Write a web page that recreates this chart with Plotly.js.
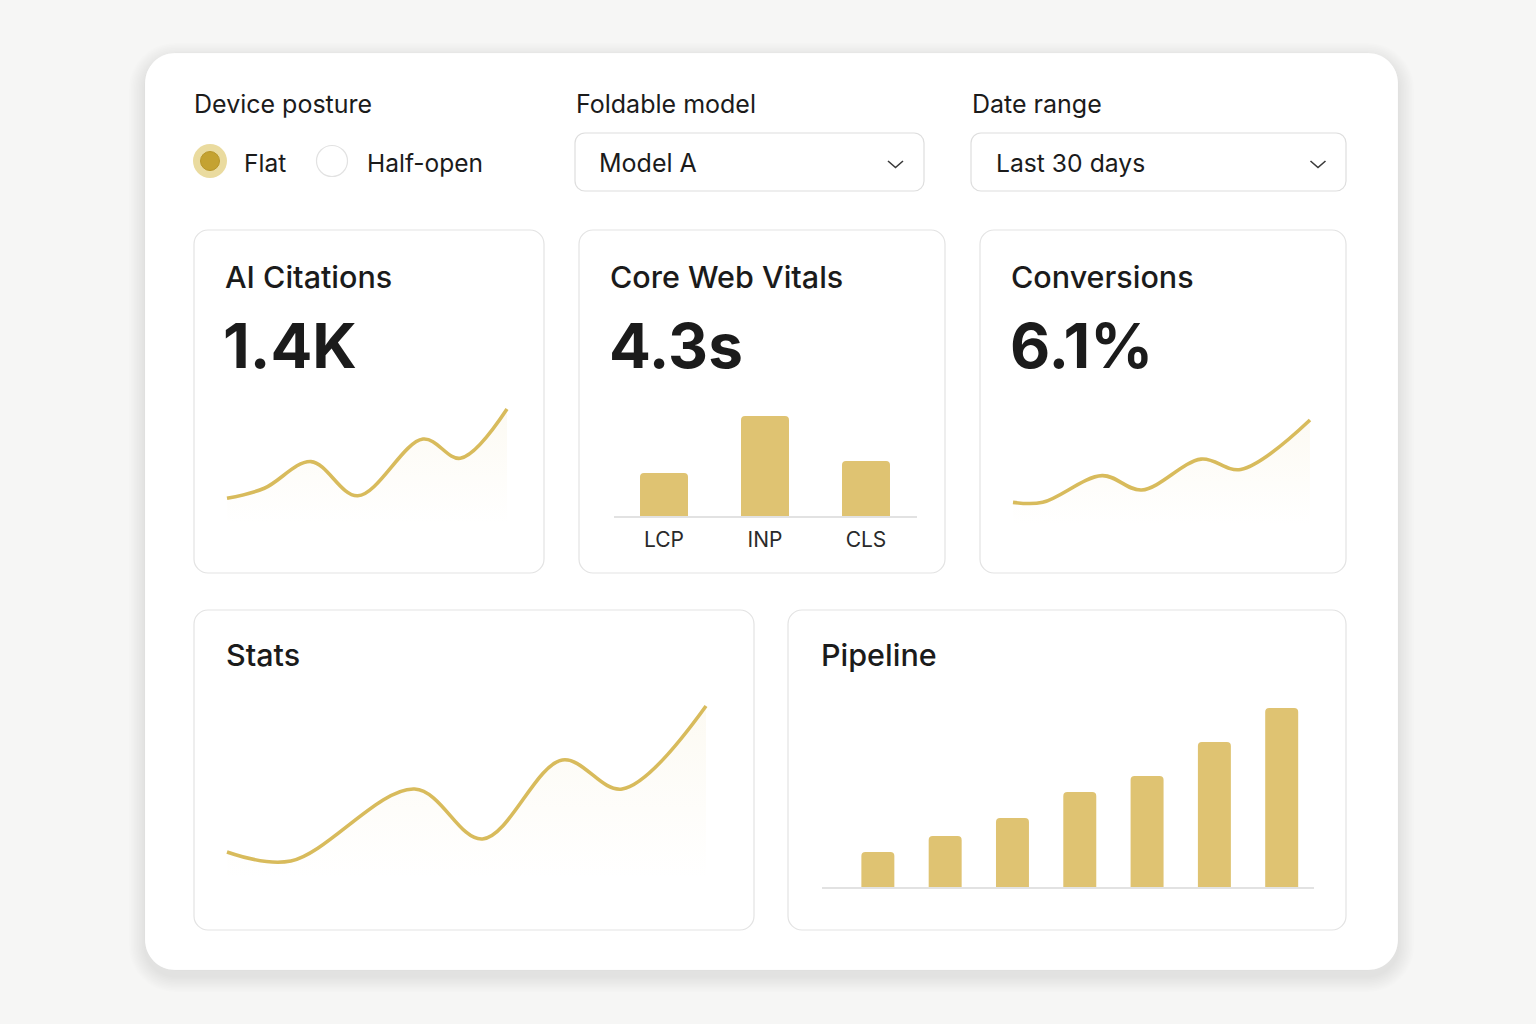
<!DOCTYPE html>
<html>
<head>
<meta charset="utf-8">
<script src="https://cdn.plot.ly/plotly-3.0.1.min.js"></script>
<style>
html,body{margin:0;padding:0;background:#f6f6f5;}
#chart{width:1536px;height:1024px;}
</style>
</head>
<body>
<div id="chart"></div>
<script>
// ---------------- DATA ----------------
const postureLabel = "Device posture";
const postureOptions = ["Flat", "Half-open"];
const modelLabel = "Foldable model";
const modelValue = "Model A";
const rangeLabel = "Date range";
const rangeValue = "Last 30 days";

const kpiTitles = ["AI Citations", "Core Web Vitals", "Conversions"];
const kpiValues = ["1.4K", "4.3s", "6.1%"];

const citationDays = [0, 4, 9, 14, 21, 25, 30];
const citationValues = [0.32, 0.44, 0.76, 0.35, 1.03, 0.80, 1.39];

const vitalsLabels = ["LCP", "INP", "CLS"];
const vitalsValues = [43, 100, 55];

const conversionDays = [0, 3, 9, 13, 19, 23, 30];
const conversionValues = [2.1, 2.1, 3.4, 2.7, 4.2, 3.7, 6.1];

const statsTitle = "Stats";
const statsX = [0, 1.6, 4.7, 6.4, 8.4, 9.9, 12];
const statsValues = [28, 19, 91, 41, 120, 91, 174];

const pipelineTitle = "Pipeline";
const pipelineStages = ["Stage 1", "Stage 2", "Stage 3", "Stage 4", "Stage 5", "Stage 6", "Stage 7"];
const pipelineValues = [35, 51, 69, 95, 111, 145, 179];

// ---------------- STYLE / HELPERS ----------------
const W = 1536, H = 1024;
const FONT = 'Inter, "Noto Sans", "DejaVu Sans", sans-serif';
const INK = '#1b1b1b';
const GOLD_BAR = '#dfc372';
const GOLD_LINE = '#d8bb5c';
const px = v => v / W;
const py = v => 1 - v / H;

function xMap(a, b, va, vb, pad) {
  const s = (vb - va) / (b - a);
  return { domain: [px(a - pad), px(b + pad)], range: [va - pad * s, vb + pad * s] };
}
function yMap(bot, top, v0, v1, padB, padT) {
  const s = (v1 - v0) / (bot - top);
  return { domain: [py(bot + padB), py(top - padT)], range: [v0 - padB * s, v1 + padT * s] };
}
function rr(x0, y0, x1, y1, r) {
  const k = 0.4477 * r;
  const X = v => px(v).toFixed(6), Y = v => py(v).toFixed(6);
  return `M${X(x0 + r)},${Y(y0)} L${X(x1 - r)},${Y(y0)} ` +
    `C${X(x1 - k)},${Y(y0)} ${X(x1)},${Y(y0 + k)} ${X(x1)},${Y(y0 + r)} ` +
    `L${X(x1)},${Y(y1 - r)} C${X(x1)},${Y(y1 - k)} ${X(x1 - k)},${Y(y1)} ${X(x1 - r)},${Y(y1)} ` +
    `L${X(x0 + r)},${Y(y1)} C${X(x0 + k)},${Y(y1)} ${X(x0)},${Y(y1 - k)} ${X(x0)},${Y(y1 - r)} ` +
    `L${X(x0)},${Y(y0 + r)} C${X(x0)},${Y(y0 + k)} ${X(x0 + k)},${Y(y0)} ${X(x0 + r)},${Y(y0)} Z`;
}
function rrShape(x0, y0, x1, y1, r, fill, line, lw) {
  return { type: 'path', xref: 'paper', yref: 'paper', layer: 'below',
    path: rr(x0, y0, x1, y1, r), fillcolor: fill,
    line: { color: line || 'rgba(0,0,0,0)', width: lw || 0 } };
}
function circle(cx, cy, r, fill, line, lw) {
  return { type: 'circle', xref: 'paper', yref: 'paper', layer: 'above',
    x0: px(cx - r), x1: px(cx + r), y0: py(cy + r), y1: py(cy - r),
    fillcolor: fill, line: { color: line || 'rgba(0,0,0,0)', width: lw || 0 } };
}
function chevron(cx, cy) {
  return { type: 'path', xref: 'paper', yref: 'paper', layer: 'above',
    path: `M${px(cx - 7.5)},${py(cy - 3)} L${px(cx)},${py(cy + 3.5)} L${px(cx + 7.5)},${py(cy - 3)}`,
    line: { color: '#3a3a3a', width: 1.6 } };
}
function txt(text, x, y, size, weight, color) {
  return { text: text, xref: 'paper', yref: 'paper', x: px(x), y: py(y),
    xanchor: 'left', yanchor: 'middle', showarrow: false, borderpad: 0,
    font: { family: FONT, size: size, weight: weight || 400, color: color || INK } };
}

// ---------------- SHAPES ----------------
const shapes = [];
for (let i = 1; i <= 10; i++) {
  shapes.push(rrShape(145 - i * 1.6, 53 - i * 1.6 + 6, 1398 + i * 1.6, 970 + i * 1.6 + 6, 30 + i * 1.6,
    'rgba(0,0,0,0.006)'));
}
shapes.push(rrShape(145, 53, 1398, 970, 30, '#ffffff', 'rgba(0,0,0,0.015)', 1));
shapes.push(rrShape(575, 133, 924, 191, 10, '#ffffff', '#dedede', 1.2));
shapes.push(rrShape(971, 133, 1346, 191, 10, '#ffffff', '#dedede', 1.2));
const CARD_LINE = '#e3e3e3';
shapes.push(rrShape(194, 230, 544, 573, 14, '#ffffff', CARD_LINE, 1.2));
shapes.push(rrShape(579, 230, 945, 573, 14, '#ffffff', CARD_LINE, 1.2));
shapes.push(rrShape(980, 230, 1346, 573, 14, '#ffffff', CARD_LINE, 1.2));
shapes.push(rrShape(194, 610, 754, 930, 14, '#ffffff', CARD_LINE, 1.2));
shapes.push(rrShape(788, 610, 1346, 930, 14, '#ffffff', CARD_LINE, 1.2));
shapes.push(circle(210, 161, 17, '#eadb9f'));
shapes.push(circle(210, 161, 9.5, '#c4a231', '#b8962a', 1));
shapes.push(circle(332, 161, 15.5, '#ffffff', '#e2e2e2', 1.2));
shapes.push(chevron(895.5, 164));
shapes.push(chevron(1318, 164));

// ---------------- ANNOTATIONS ----------------
const annotations = [
  txt(postureLabel, 193, 103.5, 25),
  txt(modelLabel, 575, 103.5, 25),
  txt(rangeLabel, 971, 103.5, 25),
  txt(postureOptions[0], 243, 162.5, 24.5),
  txt(postureOptions[1], 366, 162.5, 24.5),
  txt(modelValue, 598, 163, 25),
  txt(rangeValue, 995, 163, 24.7),
  txt(kpiTitles[0], 224, 276, 30.5, 500),
  txt(kpiTitles[1], 609, 276, 30.5, 500),
  txt(kpiTitles[2], 1010, 276, 30.5, 500),
  txt(kpiValues[0], 222, 345.5, 62, 700),
  txt(kpiValues[1], 608, 345.5, 62, 700),
  txt(kpiValues[2], 1009, 345.5, 62, 700),
  txt(statsTitle, 225, 654, 30.5, 500),
  txt(pipelineTitle, 820, 654, 30.5, 500)
];

// ---------------- AXES ----------------
const hidden = { showgrid: false, zeroline: false, showticklabels: false, showline: false, ticks: '', fixedrange: true };

const ax1x = xMap(227, 507, 0, 30, 4), ax1y = yMap(525, 409, 0, 1.39, 0, 4);
const ax3x = xMap(1013, 1310, 0, 30, 4), ax3y = yMap(525, 420, 1, 6.1, 0, 4);
const ax4x = xMap(227, 706, 0, 12, 4), ax4y = yMap(880, 706, 0, 174, 0, 4);
const ax2y = yMap(516, 416, 0, 100, 0, 0);
const ax5y = yMap(887, 708, 0, 179, 0, 0);

const fillGrad = (lo, hi) => ({ type: 'vertical', start: lo, stop: hi,
  colorscale: [[0, 'rgba(226,200,120,0)'], [1, 'rgba(226,200,120,0.09)']] });

const lineStyle = { color: GOLD_LINE, width: 3.6, shape: 'spline', smoothing: 1.0 };

const traces = [
  { type: 'scatter', mode: 'lines', x: citationDays, y: citationValues, xaxis: 'x', yaxis: 'y',
    line: lineStyle, fill: 'tozeroy', fillgradient: fillGrad(0, 1.39), hoverinfo: 'skip' },
  { type: 'bar', x: vitalsLabels, y: vitalsValues, xaxis: 'x2', yaxis: 'y2', width: 0.475,
    marker: { color: GOLD_BAR, cornerradius: 4, line: { width: 0 } }, hoverinfo: 'skip' },
  { type: 'scatter', mode: 'lines', x: conversionDays, y: conversionValues, xaxis: 'x3', yaxis: 'y3',
    line: lineStyle, fill: 'tozeroy', fillgradient: fillGrad(1, 6.1), hoverinfo: 'skip' },
  { type: 'scatter', mode: 'lines', x: statsX, y: statsValues, xaxis: 'x4', yaxis: 'y4',
    line: lineStyle, fill: 'tozeroy', fillgradient: fillGrad(0, 174), hoverinfo: 'skip' },
  { type: 'bar', x: pipelineStages, y: pipelineValues, xaxis: 'x5', yaxis: 'y5', width: 0.49,
    marker: { color: GOLD_BAR, cornerradius: 4, line: { width: 0 } }, hoverinfo: 'skip' }
];

const layout = {
  width: W, height: H,
  margin: { l: 0, r: 0, t: 0, b: 0, pad: 0 },
  paper_bgcolor: '#f6f6f5',
  plot_bgcolor: 'rgba(0,0,0,0)',
  showlegend: false,
  font: { family: FONT, color: INK },
  shapes: shapes,
  annotations: annotations,
  xaxis: Object.assign({}, hidden, { domain: ax1x.domain, range: ax1x.range, anchor: 'y' }),
  yaxis: Object.assign({}, hidden, { domain: ax1y.domain, range: ax1y.range, anchor: 'x' }),
  xaxis2: Object.assign({}, hidden, {
    type: 'category', domain: [px(613.5), px(916.5)], range: [-0.5, 2.5], anchor: 'y2',
    showticklabels: true, showline: true, linecolor: '#e2e2e2', linewidth: 1.5,
    tickfont: { family: FONT, size: 21, color: '#2a2a2a' }, ticklabelstandoff: 4 }),
  yaxis2: Object.assign({}, hidden, { domain: ax2y.domain, range: ax2y.range, anchor: 'x2' }),
  xaxis3: Object.assign({}, hidden, { domain: ax3x.domain, range: ax3x.range, anchor: 'y3' }),
  yaxis3: Object.assign({}, hidden, { domain: ax3y.domain, range: ax3y.range, anchor: 'x3' }),
  xaxis4: Object.assign({}, hidden, { domain: ax4x.domain, range: ax4x.range, anchor: 'y4' }),
  yaxis4: Object.assign({}, hidden, { domain: ax4y.domain, range: ax4y.range, anchor: 'x4' }),
  xaxis5: Object.assign({}, hidden, {
    type: 'category', domain: [px(822), px(1314)], range: [-0.83, 6.48], anchor: 'y5',
    showline: true, linecolor: '#e2e2e2', linewidth: 1.5 }),
  yaxis5: Object.assign({}, hidden, { domain: ax5y.domain, range: ax5y.range, anchor: 'x5' })
};

Plotly.newPlot('chart', traces, layout, { staticPlot: true, displayModeBar: false });
</script>
</body>
</html>
